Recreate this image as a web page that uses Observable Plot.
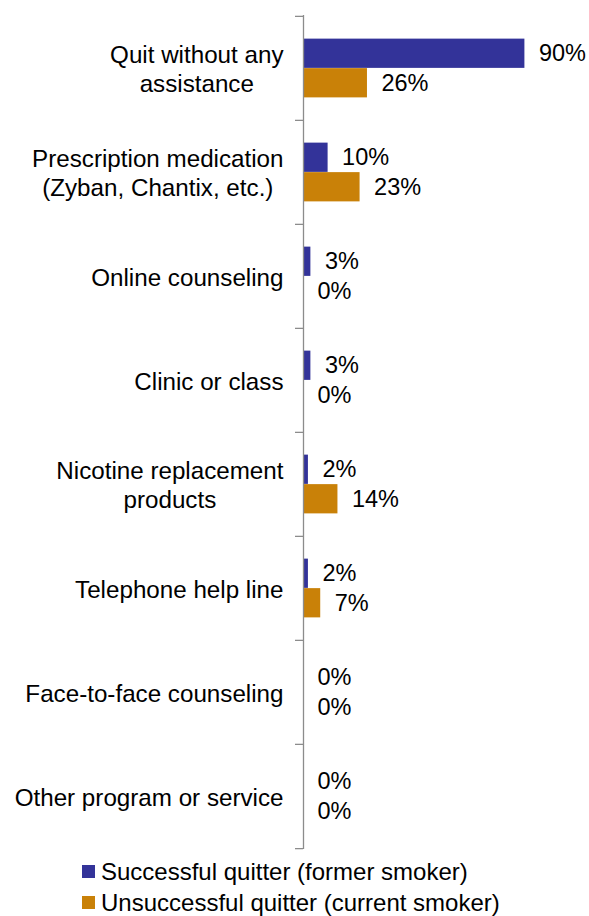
<!DOCTYPE html>
<html><head><meta charset="utf-8">
<script src="https://cdn.jsdelivr.net/npm/d3@7"></script>
<script src="https://cdn.jsdelivr.net/npm/@observablehq/plot@0.6"></script>
<style>
html,body{margin:0;background:#fff;font-family:"Liberation Sans",Arial,sans-serif;overflow:hidden}
#legend{padding-left:82px;font-size:24px;line-height:31px;color:#000}
.item{display:flex;align-items:center;white-space:nowrap}
.sw{width:13px;height:13px;margin-right:6px;flex:none}
</style></head>
<body><div id="chart"></div><div id="legend"></div>
<script>
const categories = [
  "Quit without any\nassistance",
  "Prescription medication\n(Zyban, Chantix, etc.)",
  "Online counseling",
  "Clinic or class",
  "Nicotine replacement\nproducts",
  "Telephone help line",
  "Face-to-face counseling",
  "Other program or service"
];
const seriesNames = ["Successful quitter (former smoker)", "Unsuccessful quitter (current smoker)"];
const successful = [90, 10, 3, 3, 2, 2, 0, 0];
const unsuccessful = [26, 23, 0, 0, 14, 7, 0, 0];
const colors = ["#333399", "#c98108"];

const rowsA = categories.map((c, i) => ({category: c, value: successful[i]}));
const rowsB = categories.map((c, i) => ({category: c, value: unsuccessful[i]}));

const W = 589, H = 856, mt = 15, mb = 7, ml = 303, mr = 40;
const CFS = 24.2, VFS = 23.5;
const FONT = `${CFS}px "Liberation Sans", Arial`;
const bw = (H - mt - mb) / categories.length;
const gapOuter = bw * 0.217, half = bw / 2;
const labelOff = (half + gapOuter) / 2 - gapOuter;
const axisColor = "#8c8c8c";

const ctx = document.createElement("canvas").getContext("2d");
ctx.font = FONT;
const blockWidth = s => Math.max(...s.split("\n").map(l => ctx.measureText(l).width));

const catLabelMarks = categories.map(c => Plot.text([c], {
  x: () => 0, y: d => d, text: d => d,
  textAnchor: "middle", dx: -(20 + blockWidth(c) / 2),
  lineHeight: 29 / CFS, fontSize: CFS, fill: "#000"
}));

const chart = Plot.plot({
  width: W, height: H,
  marginTop: mt, marginBottom: mb, marginLeft: ml, marginRight: mr,
  style: {fontFamily: '"Liberation Sans", Arial, sans-serif', background: "#fff"},
  x: {domain: [0, 100], axis: null},
  y: {domain: categories, padding: 0, axis: null},
  marks: [
    Plot.barX(rowsA, {x: "value", y: "category", fill: colors[0], insetTop: gapOuter, insetBottom: half}),
    Plot.barX(rowsB, {x: "value", y: "category", fill: colors[1], insetTop: half, insetBottom: gapOuter}),
    Plot.text(rowsA, {x: "value", y: "category", text: d => d.value + "%", dy: -labelOff, dx: 14, textAnchor: "start", fontSize: VFS, fill: "#000"}),
    Plot.text(rowsB, {x: "value", y: "category", text: d => d.value + "%", dy: labelOff, dx: 14, textAnchor: "start", fontSize: VFS, fill: "#000"}),
    Plot.ruleX([0], {stroke: axisColor, strokeWidth: 1.3}),
    Plot.ruleY(categories, {y: d => d, x1: 0, x2: 0, dy: -half, insetLeft: -8, stroke: axisColor, strokeWidth: 1.3}),
    Plot.ruleY(categories.slice(-1), {y: d => d, x1: 0, x2: 0, dy: half, insetLeft: -8, stroke: axisColor, strokeWidth: 1.3}),
    ...catLabelMarks
  ]
});
document.getElementById("chart").appendChild(chart);

const legend = document.getElementById("legend");
seriesNames.forEach((name, i) => {
  const item = document.createElement("div");
  item.className = "item";
  const sw = document.createElement("span");
  sw.className = "sw";
  sw.style.background = colors[i];
  const t = document.createElement("span");
  t.textContent = name;
  item.appendChild(sw); item.appendChild(t);
  legend.appendChild(item);
});
</script>
</body></html>
